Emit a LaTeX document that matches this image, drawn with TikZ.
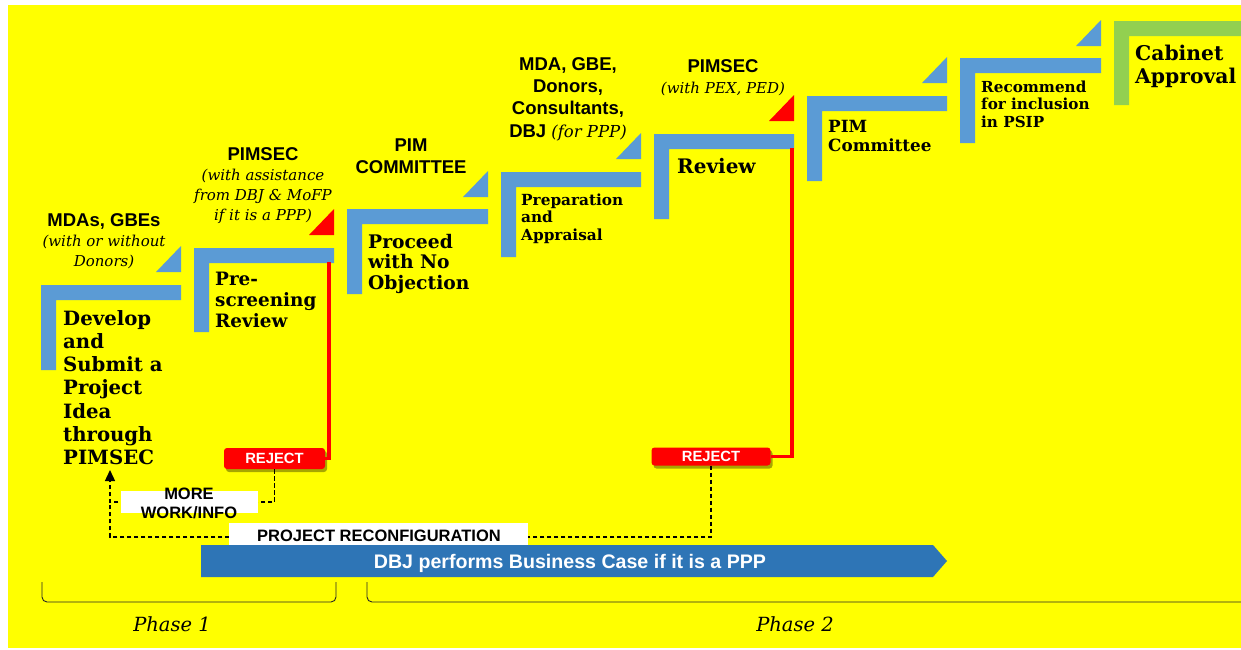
\documentclass[tikz,border=0pt]{standalone}
\usepackage{fontspec}
\setmainfont{DejaVu Serif}
\newfontfamily\serf{DejaVu Serif}
\newfontfamily\sanf{Liberation Sans}
\usetikzlibrary{arrows.meta,shadows}
\definecolor{bgyellow}{HTML}{FFFF00}
\definecolor{stepblue}{HTML}{5B9BD5}
\definecolor{stepgreen}{HTML}{92D050}
\definecolor{rejred}{HTML}{FF0000}
\definecolor{dbjblue}{HTML}{2E75B6}
% L-shaped step: x-left, x-right, y-top, y-bottom, colour
\newcommand\stepL[5]{%
  \fill[#5] (#1,#3) -- (#2,#3) -- (#2,#3+15) -- (#1+15,#3+15) -- (#1+15,#4) -- (#1,#4) -- cycle;}
% corner triangle: x-right, y-bottom, colour
\newcommand\stepT[3]{%
  \fill[#3] (#1-25,#2) -- (#1,#2) -- (#1,#2-26) -- cycle;}
\tikzset{
  steptxt/.style={anchor=north west, inner sep=0pt, align=left, text=black},
  who/.style={anchor=north, inner sep=0pt, align=center, font=\sanf\bfseries\fontsize{18.5}{22.3}\selectfont},
  whoit/.style={anchor=north, inner sep=0pt, align=center, font=\serf\itshape\fontsize{15}{20}\selectfont},
  reject/.style={fill=rejred, rounded corners=3pt, text=white, inner sep=0pt,
    font=\sanf\bfseries\fontsize{14.8}{16}\selectfont,
    drop shadow={shadow xshift=2pt, shadow yshift=-3pt, opacity=0.35, fill=black}},
  whitebox/.style={fill=white, inner sep=0pt},
  dashline/.style={draw=black, line width=1.4pt, dash pattern=on 4.5pt off 2.5pt},
  redline/.style={draw=rejred, line width=3.4pt},
  bracket/.style={draw=black!85, line width=0.9pt, rounded corners=5pt},
  phase/.style={anchor=base, inner sep=0pt, font=\serf\itshape\fontsize{19.5}{22}\selectfont},
  sanslbl/.style={inner sep=0pt, font=\sanf\bfseries\fontsize{16.5}{19}\selectfont}
}
\begin{document}
\begin{tikzpicture}[x=1pt,y=-1pt]
\useasboundingbox (0,0) rectangle (1241,649);
\fill[white] (0,0) rectangle (1241,649);
\fill[bgyellow] (8,5) rectangle (1241,648);

% steps
\stepL{41}{181}{285}{370}{stepblue}   \stepT{181}{272}{stepblue}
\stepL{194}{334}{248}{332}{stepblue}  \stepT{334}{235}{rejred}
\stepL{347}{488}{209}{294}{stepblue}  \stepT{488}{197}{stepblue}
\stepL{501}{641}{172}{257}{stepblue}  \stepT{641}{159}{stepblue}
\stepL{654}{794}{134}{219}{stepblue}  \stepT{794}{121}{rejred}
\stepL{807}{947}{96}{181}{stepblue}   \stepT{947}{83}{stepblue}
\stepL{960}{1101}{58}{143}{stepblue}  \stepT{1101}{46}{stepblue}
\stepL{1114}{1260}{21}{105}{stepgreen}

% step labels
\node[steptxt, font=\serf\bfseries\fontsize{19.7}{23.2}\selectfont] (t1) at (63,308.8)
  {\strut Develop\\and\\Submit a\\Project\\Idea\\through\\PIMSEC};
\node[steptxt, font=\serf\bfseries\fontsize{18.4}{21}\selectfont] (t2) at (215,270.3)
  {\strut Pre-\\screening\\Review};
\node[steptxt, font=\serf\bfseries\fontsize{18.7}{20.7}\selectfont] (t3) at (368,233.5)
  {\strut Proceed\\with No\\Objection};
\node[steptxt, font=\serf\bfseries\fontsize{15.3}{17.5}\selectfont] (t4) at (521,192.75)
  {\strut Preparation\\and\\Appraisal};
\node[steptxt, font=\serf\bfseries\fontsize{20}{23}\selectfont] (t5) at (677,156.9)
  {\strut Review};
\node[steptxt, font=\serf\bfseries\fontsize{16.8}{19}\selectfont] (t6) at (828,118.7)
  {\strut PIM\\Committee};
\node[steptxt, font=\serf\bfseries\fontsize{15.2}{17.5}\selectfont] (t7) at (981,79.75)
  {\strut Recommend\\for inclusion\\in PSIP};
\node[steptxt, font=\serf\bfseries\fontsize{20.3}{23}\selectfont] (t8) at (1135,43.9)
  {\strut Cabinet\\Approval};

% actor labels
\node[who] (a1) at (104,210.4) {\strut MDAs, GBEs};
\node[whoit] (a1i) at (104,232) {\strut (with or without\\Donors)};
\node[who] (a2) at (263,144.4) {\strut PIMSEC};
\node[whoit] (a2i) at (263,166) {\strut (with assistance\\from DBJ \& MoFP\\if it is a PPP)};
\node[who, font=\sanf\bfseries\fontsize{18.5}{22}\selectfont] (a3) at (411,135.6) {\strut PIM\\COMMITTEE};
\node[who] (a4) at (568,54.4) {\strut MDA, GBE,\\Donors,\\Consultants,\\DBJ {\serf\mdseries\itshape\fontsize{16.5}{20}\selectfont (for PPP)}};
\node[who] (a5) at (723,56.4) {\strut PIMSEC};
\node[whoit] (a5i) at (723,79) {\strut (with PEX, PED)};

% reject boxes
\node[reject, minimum width=101pt, minimum height=21pt] (reject1) at (274.5,458.5) {REJECT};
\node[reject, minimum width=119pt, minimum height=18pt] (reject2) at (711,456.5) {REJECT};

% red lines
\coordinate (s2) at (329,262);
\coordinate (s5) at (792,148);
\draw[redline] (s2) |- (reject1.east);
\draw[redline] (s5) |- (reject2.east);

% dashed feedback lines
\coordinate (jn) at (110,502);
\coordinate (jb) at (110,537);
\coordinate (tip) at (110,470);
\draw[dashline] (reject2.south) |- (jb) -- (jn);
\draw[dashline, -{Triangle[length=11pt,width=10pt]}] (reject1.south) |- (jn) -- (tip);

% white label boxes
\node[whitebox, minimum width=137pt, minimum height=22pt] (morebox) at (189.5,502) {};
\node[sanslbl, anchor=north, align=center] (moretxt) at (189,485.7) {\strut MORE\\WORK/INFO};
\node[whitebox, minimum width=298.5pt, minimum height=22pt] (prbox) at (378.25,534) {};
\node[sanslbl, anchor=base] (prtxt) at (379,541) {PROJECT RECONFIGURATION};

% DBJ arrow
\fill[dbjblue] (201,545) -- (933,545) -- (947,561) -- (933,577) -- (201,577) -- cycle;
\node[anchor=base, inner sep=0pt, text=white, font=\sanf\bfseries\fontsize{19.6}{22}\selectfont] (dbj) at (570,568)
  {DBJ performs Business Case if it is a PPP};

% phase brackets
\draw[bracket] (42,582) -- (42,602) -- (336,602) -- (336,582);
\draw[bracket] (367,582) -- (367,602) -- (1250,602);
\node[phase] (ph1) at (172,631) {Phase 1};
\node[phase] (ph2) at (795,631) {Phase 2};
\end{tikzpicture}
\end{document}
